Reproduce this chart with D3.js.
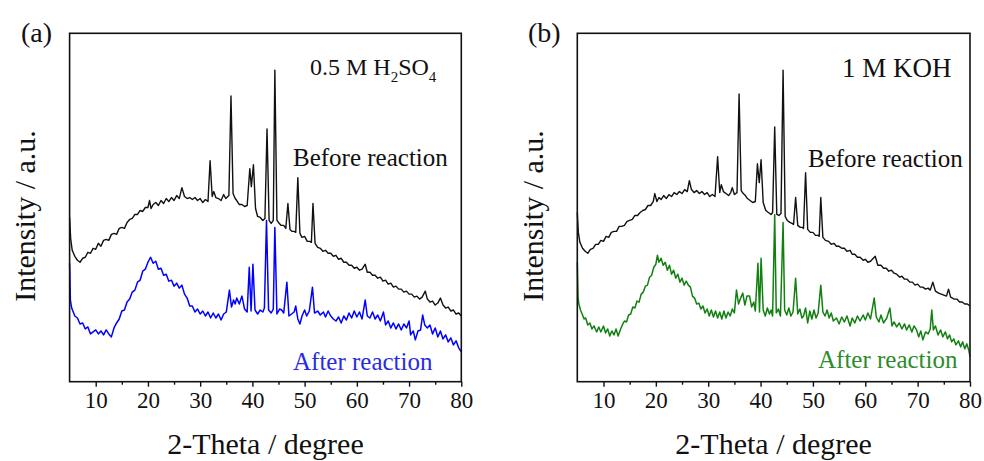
<!DOCTYPE html>
<html>
<head>
<meta charset="utf-8">
<script src="https://cdn.jsdelivr.net/npm/d3@7"></script>
<style>
  body { margin: 0; background: #fff; }
  svg { display: block; }
  text { font-family: "Liberation Serif", "Times New Roman", serif; fill: #111; }
</style>
</head>
<body>
<svg id="chart"></svg>
<script>
// XRD patterns: [2-theta (deg), intensity (a.u.)]
const beforeA = [[5.0,165],[5.2,144],[5.5,132],[6.0,126],[6.5,122],[7.0,120],[7.5,124],[8.0,125],[8.5,130],[9.0,129],[9.5,134],[10.0,133],[10.5,139],[11.0,136],[11.5,142],[12.0,143],[12.5,142],[13.0,148],[13.5,149],[14.0,148],[14.5,154],[15.0,155],[15.5,154],[16.0,160],[16.5,163],[17.0,164],[17.5,168],[18.0,168],[18.5,172],[19.0,171],[19.5,175],[20.0,175],[20.3,182],[20.6,174],[21.0,178],[21.5,180],[22.0,177],[22.5,182],[23.0,179],[23.5,184],[24.0,181],[24.5,185],[25.0,182],[25.5,187],[26.0,184],[26.5,195],[27.0,186],[27.5,184],[28.0,185],[28.5,183],[29.0,185],[29.5,182],[30.0,184],[30.5,180],[31.0,183],[31.5,181],[31.9,222],[32.3,186],[32.6,191],[33.0,185],[33.5,184],[34.0,182],[34.5,188],[34.9,184],[35.5,187],[35.9,287],[36.3,189],[36.7,184],[37.0,182],[37.5,178],[38.0,178],[38.5,176],[39.0,177],[39.5,214],[39.8,196],[40.2,218],[40.6,174],[41.0,166],[41.5,165],[42.0,162],[42.4,164],[42.8,254],[43.2,162],[43.6,159],[44.0,162],[44.3,313],[44.7,162],[45.0,160],[45.5,157],[46.0,157],[46.4,154],[46.8,179],[47.2,153],[47.6,151],[48.0,151],[48.3,150],[48.7,205],[49.1,149],[49.5,145],[50.0,146],[50.5,141],[51.0,141],[51.3,140],[51.6,179],[52.0,139],[52.5,135],[53.0,134],[53.5,131],[54.0,132],[54.5,129],[55.0,129],[55.5,126],[56.0,127],[56.5,123],[57.0,124],[57.5,120],[58.0,120],[58.5,117],[59.0,117],[59.5,114],[60.0,115],[60.5,112],[61.0,113],[61.6,118],[62.0,110],[62.5,110],[63.0,107],[63.5,107],[64.0,104],[64.5,105],[65.0,101],[65.5,102],[66.0,98],[66.5,99],[67.0,95],[67.5,96],[68.0,93],[68.5,93],[69.0,90],[69.5,91],[70.0,88],[70.5,88],[71.0,85],[71.5,86],[72.0,83],[72.5,85],[73.1,91],[73.5,83],[74.0,80],[74.5,81],[75.0,77],[75.5,79],[76.0,84],[76.5,77],[77.0,74],[77.5,75],[78.0,71],[78.5,72],[79.0,68],[79.5,69],[80.0,66]];

const afterA = [[5.0,119],[5.15,82],[5.4,74],[5.7,70],[6.0,66],[6.5,64],[7.0,58],[7.5,59],[8.0,53],[8.5,55],[9.0,48],[9.5,50],[10.0,52],[10.5,48],[11.0,51],[11.5,47],[12.0,52],[12.5,48],[13.0,45],[13.5,54],[14.0,59],[14.5,63],[15.0,71],[15.5,72],[16.0,80],[16.5,83],[17.0,90],[17.5,92],[18.0,100],[18.5,102],[19.0,111],[19.5,113],[20.0,120],[20.5,125],[21.0,119],[21.5,121],[22.0,113],[22.5,114],[23.0,107],[23.5,108],[24.0,101],[24.5,102],[25.0,96],[25.5,99],[26.0,94],[26.5,97],[27.0,88],[27.5,84],[28.0,76],[28.5,76],[29.0,70],[29.5,73],[30.0,68],[30.5,71],[31.0,66],[31.5,70],[32.0,64],[32.5,69],[33.0,64],[33.5,68],[34.0,62],[34.5,68],[35.0,70],[35.6,92],[36.0,75],[36.4,82],[36.7,78],[37.0,84],[37.5,78],[38.0,86],[38.5,73],[39.0,70],[39.4,115],[39.75,71],[40.1,118],[40.5,72],[41.0,68],[41.5,72],[42.0,70],[42.3,74],[42.7,162],[43.1,72],[43.6,69],[44.0,73],[44.3,155],[44.7,68],[45.2,73],[45.6,72],[46.0,69],[46.6,100],[47.0,66],[47.5,68],[48.0,70],[48.3,76],[48.7,63],[49.1,58],[49.5,66],[50.0,72],[50.4,66],[50.9,71],[51.5,95],[51.9,69],[52.5,71],[53.0,67],[53.6,70],[54.0,65],[54.5,71],[55.0,66],[55.5,63],[56.0,61],[56.5,65],[57.0,59],[57.5,66],[58.0,62],[58.5,69],[59.0,64],[59.5,71],[60.0,65],[60.5,70],[61.0,63],[61.6,82],[62.0,66],[62.5,64],[63.0,70],[63.5,63],[64.0,67],[64.5,61],[65.1,70],[65.5,57],[66.0,61],[66.5,54],[67.0,59],[67.5,53],[68.0,58],[68.5,52],[69.0,58],[69.5,54],[70.0,61],[70.3,47],[70.8,51],[71.2,42],[71.7,51],[72.2,52],[72.6,67],[73.0,57],[73.5,54],[74.0,57],[74.5,48],[75.0,54],[75.5,45],[76.0,51],[76.5,43],[77.0,47],[77.5,40],[78.0,44],[78.5,37],[79.0,41],[79.5,34],[80.0,30]];

const beforeB = [[5.0,170],[5.2,150],[5.5,140],[6.0,134],[6.5,131],[7.0,129],[7.5,133],[8.0,134],[8.5,138],[9.0,138],[9.5,142],[10.0,141],[10.5,146],[11.0,145],[11.5,150],[12.0,151],[12.5,151],[13.0,156],[13.5,156],[14.0,157],[14.5,161],[15.0,162],[15.5,163],[16.0,167],[16.5,167],[17.0,170],[17.5,172],[18.0,173],[18.5,177],[19.0,177],[19.5,181],[19.8,189],[20.2,181],[20.6,185],[21.0,183],[21.5,187],[22.0,184],[22.5,188],[23.0,186],[23.5,190],[24.0,188],[24.5,191],[25.0,189],[25.5,193],[26.0,191],[26.4,202],[26.8,193],[27.3,190],[27.8,192],[28.3,189],[28.8,191],[29.3,188],[29.8,190],[30.3,186],[30.8,188],[31.3,186],[31.8,226],[32.2,190],[32.5,198],[32.9,191],[33.4,189],[33.9,187],[34.3,190],[34.6,195],[35.0,188],[35.5,190],[35.9,289],[36.3,192],[36.7,189],[37.1,187],[37.5,184],[38.0,182],[38.5,180],[39.0,181],[39.4,219],[39.75,200],[40.1,223],[40.5,180],[41.0,172],[41.5,170],[42.0,168],[42.3,170],[42.7,256],[43.1,168],[43.5,167],[43.9,169],[44.3,313],[44.7,166],[45.1,162],[45.6,160],[46.0,159],[46.3,158],[46.7,185],[47.1,157],[47.6,155],[48.0,155],[48.2,154],[48.6,210],[49.0,153],[49.5,150],[50.0,150],[50.5,147],[51.0,147],[51.2,146],[51.5,185],[51.9,145],[52.4,142],[53.0,141],[53.5,138],[54.0,139],[54.5,136],[55.0,136],[55.5,134],[56.0,134],[56.5,131],[57.1,132],[57.5,128],[58.0,128],[58.5,125],[59.0,125],[59.6,122],[60.0,123],[60.5,120],[61.0,121],[61.9,126],[62.4,117],[63.0,117],[63.5,114],[64.0,114],[64.5,111],[65.0,112],[65.5,109],[66.0,108],[66.6,105],[67.0,106],[67.5,103],[68.0,103],[68.5,100],[69.0,100],[69.5,97],[70.0,98],[70.5,95],[71.0,95],[71.5,93],[72.0,94],[72.4,92],[72.9,100],[73.4,91],[74.0,89],[74.5,88],[75.0,87],[75.5,86],[75.9,93],[76.3,85],[77.0,83],[77.5,83],[78.0,80],[78.5,80],[79.0,78],[79.5,78],[80.0,76]];

const afterB = [[5.0,120],[5.15,85],[5.3,78],[5.6,72],[6.0,67],[6.3,63],[6.6,64],[7.0,57],[7.4,59],[7.8,53],[8.2,56],[8.7,50],[9.1,55],[9.5,50],[10.0,56],[10.4,49],[10.8,53],[11.2,46],[11.6,51],[12.0,47],[12.4,53],[12.8,46],[13.2,52],[13.6,57],[14.0,61],[14.4,60],[14.8,67],[15.2,68],[15.6,75],[16.0,74],[16.4,81],[16.8,80],[17.2,88],[17.6,90],[18.0,96],[18.4,97],[18.8,105],[19.2,107],[19.6,115],[20.0,118],[20.3,127],[20.6,120],[21.0,124],[21.4,117],[21.8,120],[22.2,112],[22.6,117],[23.0,108],[23.4,112],[23.8,104],[24.2,108],[24.6,100],[25.0,104],[25.4,97],[25.8,101],[26.2,97],[26.6,95],[27.0,86],[27.4,84],[27.8,78],[28.2,79],[28.6,73],[29.0,76],[29.4,69],[29.8,73],[30.2,66],[30.6,72],[31.0,65],[31.4,71],[31.8,64],[32.2,70],[32.6,63],[33.0,71],[33.4,64],[33.8,70],[34.2,66],[34.6,73],[35.0,69],[35.4,92],[35.8,78],[36.2,84],[36.6,89],[37.0,77],[37.4,86],[37.9,86],[38.3,75],[38.7,80],[39.0,71],[39.5,119],[39.8,70],[40.1,124],[40.5,72],[40.9,66],[41.3,74],[41.7,68],[42.0,72],[42.3,66],[42.7,168],[43.0,69],[43.4,73],[43.8,66],[44.3,160],[44.6,72],[45.0,67],[45.4,74],[45.8,66],[46.2,70],[46.7,104],[47.1,68],[47.5,73],[47.9,64],[48.2,66],[48.6,74],[49.0,59],[49.4,71],[49.8,63],[50.2,72],[50.6,64],[51.0,69],[51.5,97],[51.9,70],[52.3,66],[52.7,72],[53.1,64],[53.5,69],[53.9,61],[54.5,64],[55.0,58],[55.5,65],[56.0,60],[56.5,66],[57.1,56],[57.5,64],[58.0,59],[58.5,66],[59.0,61],[59.6,67],[60.0,62],[60.5,69],[61.0,63],[61.7,84],[62.1,65],[62.6,60],[63.0,67],[63.5,59],[64.1,64],[64.7,74],[65.1,56],[65.5,60],[66.0,55],[66.5,59],[67.0,53],[67.5,58],[67.9,52],[68.4,57],[68.9,50],[69.3,56],[69.8,52],[70.2,45],[70.6,51],[71.0,42],[71.5,50],[72.0,48],[72.4,53],[72.7,72],[73.0,52],[73.4,56],[73.9,47],[74.4,52],[74.8,45],[75.3,50],[75.7,43],[76.1,47],[76.5,40],[76.9,43],[77.3,37],[77.8,41],[78.2,35],[78.6,40],[79.0,33],[79.4,38],[79.8,31],[80.0,25]];

const majorTicks = [10, 20, 30, 40, 50, 60, 70, 80];
const minorTicks = [15, 25, 35, 45, 55, 65, 75];
const xDomain = [5, 80];
const yDomain = [0, 350];

const svg = d3.select('#chart')
  .attr('width', 984)
  .attr('height', 461);

const plotTop = 33.3, plotBottom = 381.7;

const panels = [
  {letter: '(a)', left: 69.6, right: 461.3, before: beforeA, after: afterA, afterColor: '#0000ff', afterText: '#2a2ae6',
   letterX: 21, titleX: 35, condX: 310, condY: 75, befX: 293, befY: 166, aftX: 293, aftY: 370, cond: 'acid'},
  {letter: '(b)', left: 577.3, right: 970, before: beforeB, after: afterB, afterColor: '#118011', afterText: '#2c8c2c',
   letterX: 528, titleX: 543, condX: 842, condY: 77, befX: 808, befY: 167, aftX: 818, aftY: 368, cond: 'base'}
];

panels.forEach(p => {
  const x = d3.scaleLinear().domain(xDomain).range([p.left, p.right]);
  const y = d3.scaleLinear().domain(yDomain).range([plotBottom, plotTop]);
  const g = svg.append('g');

  const line = d3.line().x(d => x(d[0])).y(d => y(d[1]));

  g.append('path').datum(p.before)
    .attr('d', line)
    .attr('fill', 'none')
    .attr('stroke', '#111')
    .attr('stroke-width', 1.4)
    .attr('stroke-linejoin', 'round');

  g.append('path').datum(p.after)
    .attr('d', line)
    .attr('fill', 'none')
    .attr('stroke', p.afterColor)
    .attr('stroke-width', 1.5)
    .attr('stroke-linejoin', 'round');

  // frame
  g.append('rect')
    .attr('x', p.left).attr('y', plotTop)
    .attr('width', p.right - p.left).attr('height', plotBottom - plotTop)
    .attr('fill', 'none').attr('stroke', '#111').attr('stroke-width', 1.6);

  // bottom axis, major and minor ticks
  const ax = g.append('g')
    .attr('transform', 'translate(0,' + plotBottom + ')')
    .call(d3.axisBottom(x).tickValues(majorTicks).tickSize(5).tickPadding(5).tickFormat(d3.format('d')));
  ax.select('.domain').remove();
  ax.selectAll('line').attr('stroke', '#111').attr('stroke-width', 1.4);
  ax.selectAll('text')
    .attr('font-family', '"Liberation Serif", "Times New Roman", serif')
    .attr('font-size', 23).attr('fill', '#111');

  const mn = g.append('g')
    .attr('transform', 'translate(0,' + plotBottom + ')')
    .call(d3.axisBottom(x).tickValues(minorTicks).tickSize(3).tickFormat(''));
  mn.select('.domain').remove();
  mn.selectAll('line').attr('stroke', '#111').attr('stroke-width', 1.4);

  // axis titles
  g.append('text')
    .attr('x', (p.left + p.right) / 2).attr('y', 454)
    .attr('text-anchor', 'middle').attr('font-size', 30)
    .text('2-Theta / degree');

  g.append('text')
    .attr('transform', 'translate(' + p.titleX + ',216) rotate(-90)')
    .attr('text-anchor', 'middle').attr('font-size', 30)
    .text('Intensity / a.u.');

  g.append('text')
    .attr('x', p.letterX).attr('y', 42)
    .attr('font-size', 28)
    .text(p.letter);

  // condition label
  const c = g.append('text')
    .attr('x', p.condX).attr('y', p.condY)
    .attr('font-size', p.cond === 'acid' ? 24 : 27);
  if (p.cond === 'acid') {
    c.append('tspan').text('0.5 M H');
    c.append('tspan').attr('font-size', 15).attr('dy', 7).text('2');
    c.append('tspan').attr('dy', -7).text('SO');
    c.append('tspan').attr('font-size', 15).attr('dy', 7).text('4');
  } else {
    c.text('1 M KOH');
  }

  g.append('text')
    .attr('x', p.befX).attr('y', p.befY)
    .attr('font-size', 25)
    .text('Before reaction');

  g.append('text')
    .attr('x', p.aftX).attr('y', p.aftY)
    .attr('font-size', 25)
    .style('fill', p.afterText)
    .text('After reaction');
});
</script>
</body>
</html>
